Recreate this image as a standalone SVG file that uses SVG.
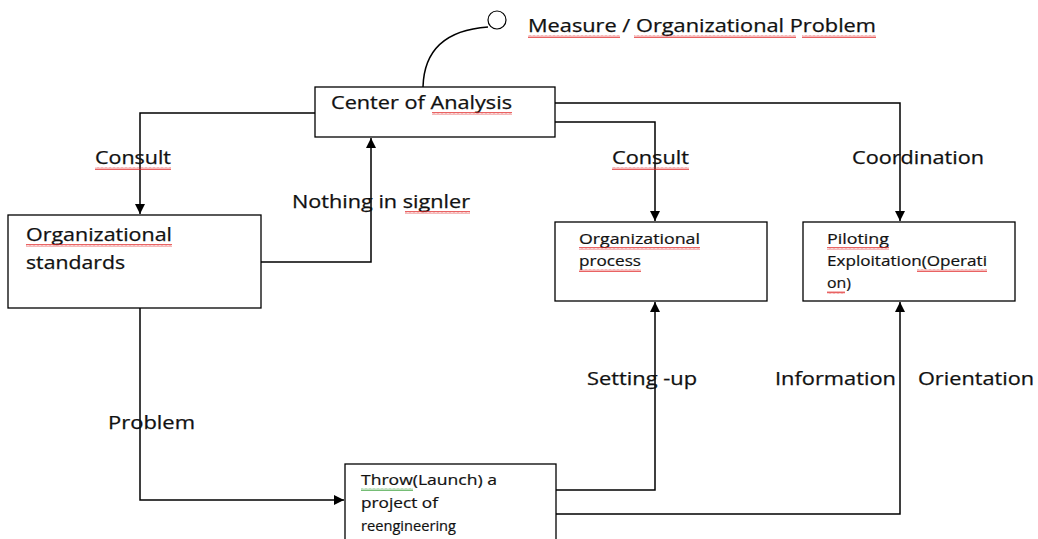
<svg xmlns="http://www.w3.org/2000/svg" width="1038" height="539" viewBox="0 0 1038 539">
<style>
.box{fill:#fff;stroke:#000;stroke-width:1.3}
.ln{fill:none;stroke:#000;stroke-width:1.5}
.lbl{font-family:"Open Sans","Liberation Sans",sans-serif;font-size:18px;fill:#111;stroke:#111;stroke-width:0.25}
.sm{font-family:"Open Sans","Liberation Sans",sans-serif;font-size:14px;fill:#111;stroke:#111;stroke-width:0.2}
.sq{fill:url(#wavy)}
.sqg{fill:url(#wavyg)}
</style>
<defs>
<marker id="ah" viewBox="0 0 10 10" refX="10" refY="5" markerWidth="10" markerHeight="10" markerUnits="userSpaceOnUse" orient="auto">
<path d="M0,0 L10,5 L0,10 z" fill="#000"/>
</marker>
<pattern id="wavy" width="4" height="3" patternUnits="userSpaceOnUse">
<path d="M0,2.5 L1,0.5 L2,2.5 L3,0.5 L4,2.5" fill="none" stroke="#e02020" stroke-width="0.7"/>
</pattern>
<pattern id="wavyg" width="4" height="3" patternUnits="userSpaceOnUse">
<path d="M0,2.5 L1,0.5 L2,2.5 L3,0.5 L4,2.5" fill="none" stroke="#3aa03a" stroke-width="0.7"/>
</pattern>
</defs>
<rect width="1038" height="539" fill="#fff"/>

<g id="connectors">
<path class="ln" d="M315,113 H140 V214" marker-end="url(#ah)"/>
<path class="ln" d="M261,262 H371 V138" marker-end="url(#ah)"/>
<path class="ln" d="M555,103 H900 V221" marker-end="url(#ah)"/>
<path class="ln" d="M555,122 H655 V221" marker-end="url(#ah)"/>
<path class="ln" d="M140,308 V500 H344" marker-end="url(#ah)"/>
<path class="ln" d="M556,490 H655 V302" marker-end="url(#ah)"/>
<path class="ln" d="M556,514 H900 V302" marker-end="url(#ah)"/>
<path class="ln" d="M423,87 C424,50 445,30 488,27"/>
<circle cx="497" cy="20" r="9" fill="#fff" stroke="#000" stroke-width="1.2"/>
</g>

<g id="labels">
<text class="lbl" x="528" y="32" textLength="348" lengthAdjust="spacingAndGlyphs">Measure / Organizational Problem</text>
<rect class="sq" x="528" y="35" width="92" height="3"/>
<rect class="sq" x="634" y="35" width="162" height="3"/>
<rect class="sq" x="802" y="35" width="74" height="3"/>
<text class="lbl" x="95" y="164" textLength="76" lengthAdjust="spacingAndGlyphs">Consult</text>
<rect class="sq" x="95" y="167" width="76" height="3"/>
<text class="lbl" x="292" y="208" textLength="178" lengthAdjust="spacingAndGlyphs">Nothing in signler</text>
<rect class="sq" x="405" y="211" width="65" height="3"/>
<text class="lbl" x="612" y="164" textLength="77" lengthAdjust="spacingAndGlyphs">Consult</text>
<rect class="sq" x="612" y="167" width="77" height="3"/>
<text class="lbl" x="852" y="164" textLength="132" lengthAdjust="spacingAndGlyphs">Coordination</text>
<text class="lbl" x="587" y="385" textLength="110" lengthAdjust="spacingAndGlyphs">Setting -up</text>
<text class="lbl" x="775" y="385" textLength="121" lengthAdjust="spacingAndGlyphs">Information</text>
<text class="lbl" x="918" y="385" textLength="116" lengthAdjust="spacingAndGlyphs">Orientation</text>
<text class="lbl" x="108" y="429" textLength="87" lengthAdjust="spacingAndGlyphs">Problem</text>
</g>

<g id="center-of-analysis">
<rect class="box" x="315" y="87" width="240" height="50"/>
<text class="lbl" x="331" y="109" textLength="181" lengthAdjust="spacingAndGlyphs">Center of Analysis</text>
<rect class="sq" x="432" y="112" width="80" height="3"/>
</g>

<g id="organizational-standards">
<rect class="box" x="8" y="215" width="253" height="93"/>
<text class="lbl" x="26" y="241" textLength="146" lengthAdjust="spacingAndGlyphs">Organizational</text>
<rect class="sq" x="26" y="244" width="146" height="3"/>
<text class="lbl" x="26" y="269" textLength="99" lengthAdjust="spacingAndGlyphs">standards</text>
</g>

<g id="organizational-process">
<rect class="box" x="555" y="222" width="212" height="79"/>
<text class="sm" x="579" y="244" textLength="121" lengthAdjust="spacingAndGlyphs">Organizational</text>
<rect class="sq" x="579" y="247" width="121" height="3"/>
<text class="sm" x="579" y="266" textLength="62" lengthAdjust="spacingAndGlyphs">process</text>
<rect class="sq" x="579" y="269" width="62" height="3"/>
</g>

<g id="piloting">
<rect class="box" x="803" y="222" width="212" height="79"/>
<text class="sm" x="827" y="244" textLength="62" lengthAdjust="spacingAndGlyphs">Piloting</text>
<rect class="sq" x="827" y="247" width="62" height="3"/>
<text class="sm" x="827" y="266" textLength="160" lengthAdjust="spacingAndGlyphs">Exploitation(Operati</text>
<rect class="sq" x="917" y="269" width="70" height="3"/>
<text class="sm" x="827" y="288" textLength="24" lengthAdjust="spacingAndGlyphs">on)</text>
<rect class="sq" x="827" y="291" width="18" height="3"/>
</g>

<g id="launch-project">
<rect class="box" x="345" y="464" width="211" height="82"/>
<text class="sm" x="361" y="485" textLength="136" lengthAdjust="spacingAndGlyphs">Throw(Launch) a</text>
<rect class="sqg" x="361" y="488" width="52" height="3"/>
<text class="sm" x="361" y="508" textLength="77" lengthAdjust="spacingAndGlyphs">project of</text>
<text class="sm" x="361" y="531" textLength="95" lengthAdjust="spacingAndGlyphs">reengineering</text>
</g>
</svg>
